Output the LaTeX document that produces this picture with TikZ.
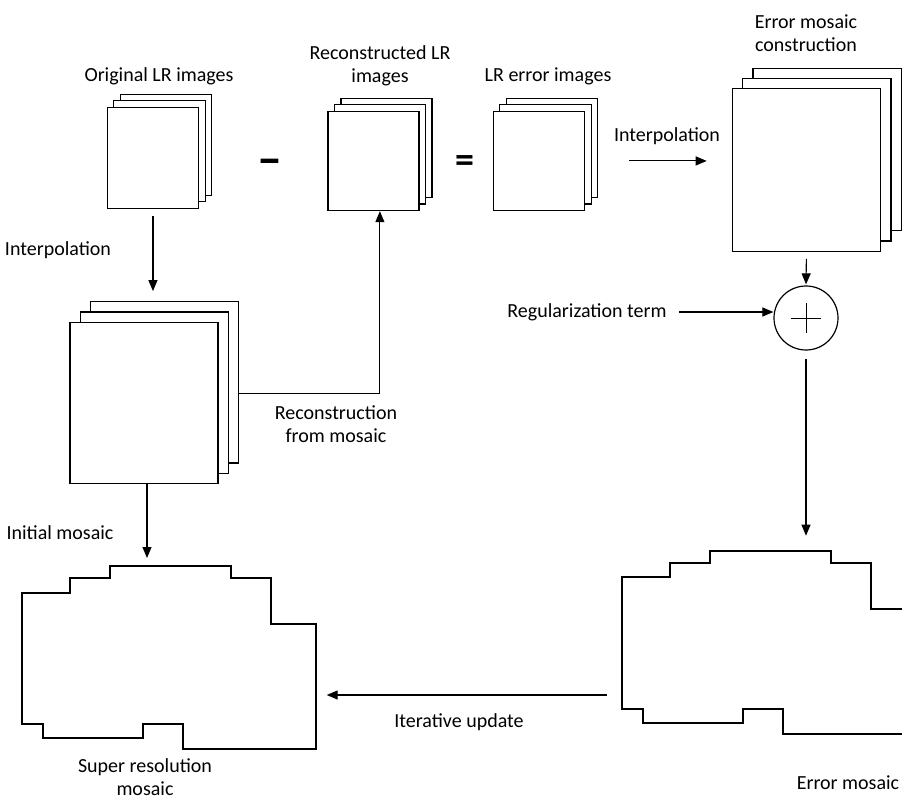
\documentclass[tikz,border=0pt]{standalone}
\usepackage{fontspec}
\setmainfont{Carlito}
\usetikzlibrary{calc,arrows.meta}
\tikzset{
  layer/.style={draw, fill=white, line width=1.2pt, inner sep=0pt, anchor=north west},
  lbl/.style={font=\fontsize{20}{23}\selectfont, align=center, inner sep=0pt},
  sign/.style={font=\fontsize{38}{38}\selectfont\bfseries, inner sep=0pt},
  arr/.style={line width=1.1pt, -{Triangle[length=11pt,width=9pt]}},
  mosaic/.style={line width=2pt, line join=miter}
}
% three frames: name, top left of front frame, width, height, offset
\def\imgstack(#1)(#2,#3)(#4:#5:#6){
  \node[layer, minimum width=#4, minimum height=#5] (#1-3) at ({#2+2*#6}, {#3-2*#6}) {};
  \node[layer, minimum width=#4, minimum height=#5] (#1-2) at ({#2+#6}, {#3-#6}) {};
  \node[layer, minimum width=#4, minimum height=#5] (#1) at (#2, #3) {};
}
% stepped mosaic outline from its upper left corner
\def\mosaic(#1){
  \draw[mosaic] (#1) -- ++(48.3,0) -- ++(0,-14.4) -- ++(40,0) -- ++(0,-12.3)
    -- ++(120.7,0) -- ++(0,12.3) -- ++(40,0) -- ++(0,46) -- ++(45.3,0)
    -- ++(0,124.7) -- ++(-133.3,0) -- ++(0,-24.7) -- ++(-40,0) -- ++(0,14)
    -- ++(-99.4,0) -- ++(0,-14) -- ++(-21.6,0) -- cycle;
}

\begin{document}
\begin{tikzpicture}[x=1pt, y=-1pt]
			%%%%% START %%%%%
			\clip (0,0) rectangle (902,802);
			
			\imgstack(orig)(106.7,106.7)(91.3:101:6.5)
			\imgstack(recon)(327.3,110.7)(91:99.3:6.5)
			\imgstack(err)(492.7,110.7)(91.3:99.3:6.5)
			\imgstack(emc)(731.7,88.3)(148.3:162.4:10.3)
			\imgstack(init)(69.3,321.7)(148:161.3:10.3)
			
			\node[lbl] (lbl-orig) at (159, 76) {Original LR images};
			\node[lbl] (lbl-recon) at (380, 66) {Reconstructed LR\\images};
			\node[lbl] (lbl-err) at (548, 76) {LR error images};
			\node[lbl] (lbl-emc) at (806, 33) {Error mosaic\\construction};
			\node[sign, font=\fontsize{50}{50}\selectfont\bfseries] (minus) at (270, 167) {–};
			\node[sign] (equals) at (465, 164) {=};
			
			\node[lbl] (lbl-interp) at (667, 136) {Interpolation};
			\draw[arr, shorten <=44pt, shorten >=25pt] (err.east) -- (err.east -| emc.west);
			
			\node[lbl] (lbl-down) at (58, 250) {Interpolation};
			\draw[arr, shorten <=7pt, shorten >=10pt] (orig.south) -- (orig.south |- init-3.north);
			
			\node[lbl] (lbl-rfm) at (336, 424) {Reconstruction\\from mosaic};
			\draw[arr] ([yshift=-11pt]init-3.east) -| (recon-2.south |- recon.south);
			
			% regularization
			\node[circle, draw, line width=1.2pt, minimum size=64pt, inner sep=0pt] (plus) at (806, 318) {};
			\draw[line width=0.8pt] (plus.center) +(-15,0) -- +(15,0);
			\draw[line width=0.8pt] (plus.center) +(0,-15) -- +(0,15);
			\node[lbl] (reg) at (587, 312) {Regularization term};
			\draw[arr, shorten <=12pt] (reg.east) -- (reg.east -| plus.west);
			\draw[arr, shorten <=7pt, shorten >=1pt] (emc.south) -- (plus.north);
			
			% mosaics
			\coordinate (sr) at (21.7, 592.7);
			\coordinate (em) at (621.7, 577.3);
			\mosaic(sr)
			\mosaic(em)
			\coordinate (sr-n) at (147, 566);
			\coordinate (em-n) at (806, 551.7);
			\coordinate (sr-e) at (316, 695);
			\coordinate (em-w) at (621.7, 695);
			
			\node[lbl] (lbl-init) at (60, 533) {Initial mosaic};
			\draw[arr, shorten >=8pt] (init.south -| sr-n) -- (sr-n);
			\draw[arr, shorten <=8pt, shorten >=16pt] (plus.south) -- (em-n);
			
			\node[lbl] (lbl-iter) at (459, 722) {Iterative update};
			\draw[arr, shorten <=15pt, shorten >=10.7pt] (em-w) -- (sr-e);
			
			\node[lbl] (lbl-sr) at (145, 777) {Super resolution\\mosaic};
			\node[lbl] (lbl-em) at (848, 783) {Error mosaic};
			%%%%% END %%%%%
\end{tikzpicture}
\end{document}
